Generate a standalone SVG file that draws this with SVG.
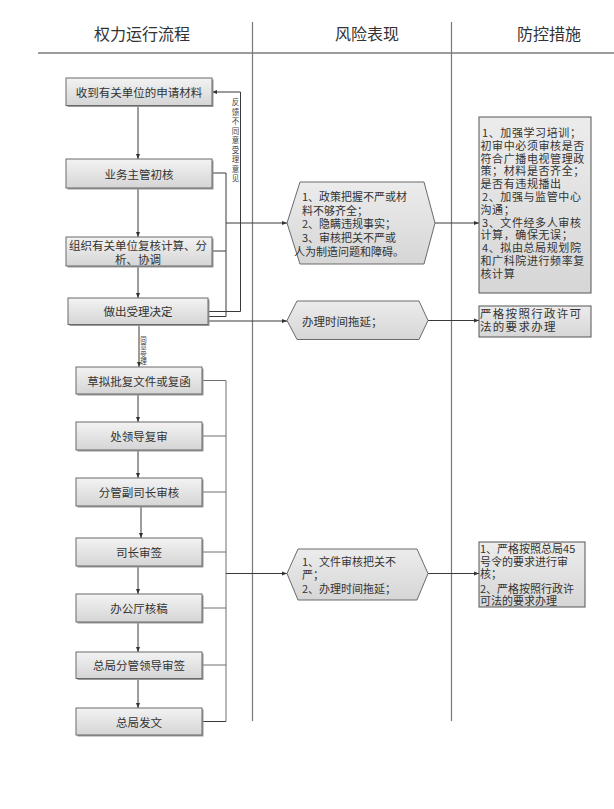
<svg xmlns="http://www.w3.org/2000/svg" width="614" height="809" viewBox="0 0 614 809">
<defs>
<linearGradient id="gBox" x1="0" y1="0" x2="0" y2="1">
<stop offset="0" stop-color="#f3f3f3"/>
<stop offset="1" stop-color="#d5d5d5"/>
</linearGradient>
<linearGradient id="gHex" x1="0" y1="0" x2="0" y2="1">
<stop offset="0" stop-color="#ececec"/>
<stop offset="1" stop-color="#d6d6d6"/>
</linearGradient>
<marker id="arr" viewBox="0 0 10 10" refX="10" refY="5" markerWidth="5" markerHeight="5" orient="auto" markerUnits="userSpaceOnUse">
<path d="M0,1 L10,5 L0,9 Z" fill="#333"/>
</marker>
<style>
.box{fill:url(#gBox);stroke:#6a6a6a;stroke-width:1}
.sh{fill:#9a9a9a}
.hex{fill:url(#gHex);stroke:#6a6a6a;stroke-width:1}
.rbox{fill:url(#gHex);stroke:#555;stroke-width:1}
.t{font-family:"Noto Sans CJK SC","Noto Sans",sans-serif;font-size:11.5px;fill:#333;dominant-baseline:central}
.m{font-size:11px}
.c{text-anchor:middle}
.h{font-family:"Noto Sans CJK SC","Noto Sans",sans-serif;font-size:16px;fill:#333;text-anchor:middle;dominant-baseline:central}
.v{font-family:"Noto Sans CJK SC","Noto Sans",sans-serif;fill:#444;writing-mode:vertical-rl}
.ln{fill:none;stroke:#3a3a3a;stroke-width:1}
.lg{fill:none;stroke:#707070;stroke-width:1}
.dv{fill:none;stroke:#777;stroke-width:1.2}
</style>
</defs>
<rect width="614" height="809" fill="#fff"/>

<g id="header">
<text class="h" x="142" y="33">权力运行流程</text>
<text class="h" x="367" y="33">风险表现</text>
<text class="h" x="549" y="33">防控措施</text>
<line class="ln" x1="38" y1="53" x2="614" y2="53"/>
<line class="dv" x1="252.5" y1="22" x2="252.5" y2="721"/>
<line class="dv" x1="451.5" y1="22" x2="451.5" y2="721"/>
</g>

<g id="connectors">
<line class="ln" x1="138" y1="106" x2="138" y2="159" marker-end="url(#arr)"/>
<line class="ln" x1="138" y1="188" x2="138" y2="237" marker-end="url(#arr)"/>
<line class="ln" x1="138" y1="266" x2="138" y2="298" marker-end="url(#arr)"/>
<line class="ln" x1="139" y1="324" x2="139" y2="367" marker-end="url(#arr)"/>
<line class="ln" x1="138" y1="394" x2="138" y2="422" marker-end="url(#arr)"/>
<line class="ln" x1="138" y1="450" x2="138" y2="478" marker-end="url(#arr)"/>
<line class="ln" x1="141" y1="506" x2="141" y2="538" marker-end="url(#arr)"/>
<line class="ln" x1="138" y1="566" x2="138" y2="594" marker-end="url(#arr)"/>
<line class="ln" x1="138" y1="622" x2="138" y2="652" marker-end="url(#arr)"/>
<line class="ln" x1="138" y1="678" x2="138" y2="708" marker-end="url(#arr)"/>
<polyline class="ln" points="209,311.5 240.5,311.5 240.5,92 212,92" marker-end="url(#arr)"/>
<polyline class="ln" points="212,173 226,173 226,316.5 209,316.5"/>
<line class="ln" x1="212" y1="251" x2="226" y2="251"/>
<line class="ln" x1="226" y1="223" x2="287" y2="223" marker-end="url(#arr)"/>
<line class="ln" x1="209" y1="321" x2="287" y2="321" marker-end="url(#arr)"/>
<line class="ln" x1="435" y1="223" x2="479" y2="223" marker-end="url(#arr)"/>
<line class="ln" x1="428" y1="320.5" x2="479" y2="320.5" marker-end="url(#arr)"/>
<polyline class="lg" points="202,380.5 226,380.5 226,721.5"/>
<line class="lg" x1="202" y1="436" x2="226" y2="436"/>
<line class="lg" x1="202" y1="492" x2="226" y2="492"/>
<line class="lg" x1="202" y1="552" x2="226" y2="552"/>
<line class="lg" x1="202" y1="608" x2="226" y2="608"/>
<line class="lg" x1="202" y1="665" x2="226" y2="665"/>
<line class="ln" x1="202" y1="721.5" x2="226" y2="721.5"/>
<line class="ln" x1="226" y1="573.5" x2="287" y2="573.5" marker-end="url(#arr)"/>
<line class="ln" x1="428" y1="573.5" x2="479" y2="573.5" marker-end="url(#arr)"/>
<text class="v" x="235.5" y="98.5" style="font-size:7.5px;letter-spacing:2px">反馈不同意受理意见</text>
<text class="v" x="143.5" y="336" style="font-size:6.5px;letter-spacing:0.9px">同意受理</text>
</g>

<g id="n1"><rect class="sh" x="67.5" y="79.5" width="146" height="27.5"/><rect class="box" x="66" y="78" width="146" height="27.5"/><text class="t c" x="139" y="92">收到有关单位的申请材料</text></g>
<g id="n2"><rect class="sh" x="67.5" y="160.5" width="146" height="29"/><rect class="box" x="66" y="159" width="146" height="29"/><text class="t c" x="139" y="173.5">业务主管初核</text></g>
<g id="n3"><rect class="sh" x="67.5" y="238.5" width="146" height="29"/><rect class="box" x="66" y="237" width="146" height="29"/><text class="t c" x="138" y="245">组织有关单位复核计算、分<tspan x="138" dy="13.5">析、协调</tspan></text></g>
<g id="n4"><rect class="sh" x="69.5" y="299.5" width="140" height="26.5"/><rect class="box" x="68" y="298" width="140" height="26.5"/><text class="t c" x="138" y="311">做出受理决定</text></g>
<g id="n5"><rect class="sh" x="77.5" y="368.5" width="126" height="27"/><rect class="box" x="76" y="367" width="126" height="27"/><text class="t c" x="139" y="380.5">草拟批复文件或复函</text></g>
<g id="n6"><rect class="sh" x="77.5" y="423.5" width="126" height="28"/><rect class="box" x="76" y="422" width="126" height="28"/><text class="t c" x="139" y="436">处领导复审</text></g>
<g id="n7"><rect class="sh" x="77.5" y="479.5" width="126" height="28"/><rect class="box" x="76" y="478" width="126" height="28"/><text class="t c" x="139" y="492">分管副司长审核</text></g>
<g id="n8"><rect class="sh" x="77.5" y="539.5" width="126" height="28"/><rect class="box" x="76" y="538" width="126" height="28"/><text class="t c" x="139" y="552">司长审签</text></g>
<g id="n9"><rect class="sh" x="77.5" y="595.5" width="126" height="28"/><rect class="box" x="76" y="594" width="126" height="28"/><text class="t c" x="139" y="608">办公厅核稿</text></g>
<g id="n10"><rect class="sh" x="77.5" y="653.5" width="126" height="26.5"/><rect class="box" x="76" y="652" width="126" height="26.5"/><text class="t c" x="139" y="665">总局分管领导审签</text></g>
<g id="n11"><rect class="sh" x="77.5" y="709.5" width="126" height="27"/><rect class="box" x="76" y="708" width="126" height="27"/><text class="t c" x="139" y="721.5">总局发文</text></g>

<g id="r1">
<polygon class="hex" points="287,223 300,182 424,182 435,223 424,264 300,264"/>
<text class="t m" x="302" y="195.5">1、政策把握不严或材<tspan x="302" dy="14">料不够齐全；</tspan><tspan x="302" dy="13.5">2、隐瞒违规事实；</tspan><tspan x="302" dy="14">3、审核把关不严或</tspan><tspan x="294" dy="14">人为制造问题和障碍。</tspan></text>
</g>
<g id="r2">
<polygon class="hex" points="287,320.5 297,301 419,301 428,320.5 419,339.5 297,339.5"/>
<text class="t" x="302" y="320.5">办理时间拖延；</text>
</g>
<g id="r3">
<polygon class="hex" points="287,573.5 298,549 417,549 428,573.5 417,600 298,600"/>
<text class="t m" x="302" y="561">1、文件审核把关不<tspan x="302" dy="13">严；</tspan><tspan x="302" dy="14">2、办理时间拖延；</tspan></text>
</g>

<g id="m1">
<rect class="rbox" x="479" y="117" width="112" height="176"/>
<text class="t m" x="482" y="132" style="letter-spacing:0.6px">1、加强学习培训；<tspan x="480.5" dy="12.8">初审中必须审核是否</tspan><tspan x="480.5" dy="12.8">符合广播电视管理政</tspan><tspan x="480.5" dy="12.8">策；材料是否齐全；</tspan><tspan x="480.5" dy="12.8">是否有违规播出</tspan><tspan x="482" dy="12.8">2、加强与监管中心</tspan><tspan x="480.5" dy="12.8">沟通；</tspan><tspan x="482" dy="12.8">3、文件经多人审核</tspan><tspan x="480.5" dy="12.8">计算，确保无误；</tspan><tspan x="482" dy="12.8">4、拟由总局规划院</tspan><tspan x="480.5" dy="12.8">和广科院进行频率复</tspan><tspan x="480.5" dy="12.8">核计算</tspan></text>
</g>
<g id="m2">
<rect class="rbox" x="479" y="306" width="112" height="31"/>
<text class="t" x="480" y="313" style="letter-spacing:1.3px">严格按照行政许可<tspan x="480" dy="13">法的要求办理</tspan></text>
</g>
<g id="m3">
<rect class="rbox" x="479" y="542" width="106" height="65"/>
<text class="t m" x="480" y="548">1、严格按照总局45<tspan x="480" dy="12.5">号令的要求进行审</tspan><tspan x="480" dy="12.5">核；</tspan><tspan x="480" dy="14.5">2、严格按照行政许</tspan><tspan x="480" dy="12.5">可法的要求办理</tspan></text>
</g>
</svg>
